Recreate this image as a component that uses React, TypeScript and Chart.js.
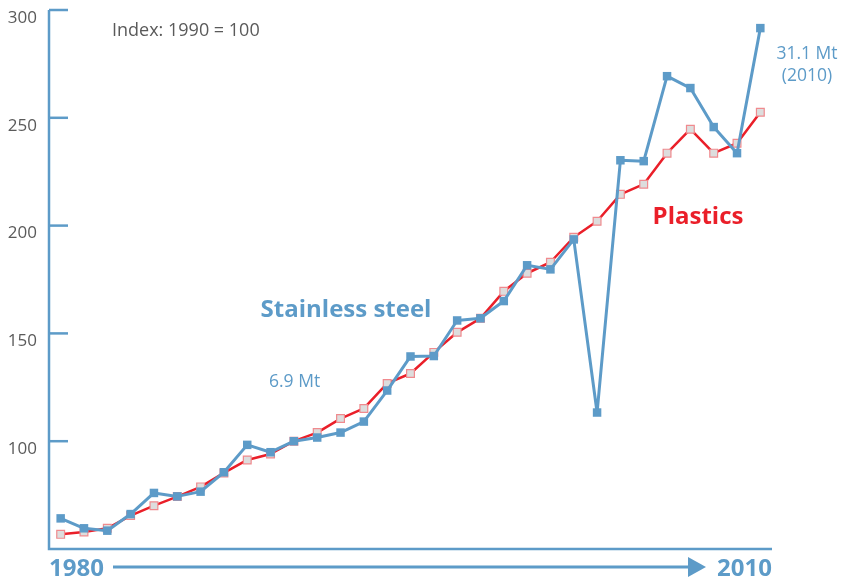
import React, { useEffect, useRef } from "react";
import { Chart, registerables } from "chart.js";

Chart.register(...registerables);

const years = [
  1980, 1981, 1982, 1983, 1984, 1985, 1986, 1987, 1988, 1989, 1990,
  1991, 1992, 1993, 1994, 1995, 1996, 1997, 1998, 1999, 2000,
  2001, 2002, 2003, 2004, 2005, 2006, 2007, 2008, 2009, 2010,
];

const stainlessSteel = [
  64.2, 59.6, 58.5, 66.2, 76.0, 74.4, 76.6, 85.6, 98.3, 94.9, 100,
  101.7, 104.0, 109.1, 123.5, 139.3, 139.5, 156.0, 157.0, 165.0, 181.6,
  179.7, 193.6, 113.3, 230.3, 229.9, 269.3, 263.8, 245.7, 233.6, 291.6,
];

const plastics = [
  56.8, 57.9, 59.6, 65.5, 70.1, 74.3, 78.8, 85.3, 91.3, 94.1, 100,
  104.0, 110.5, 115.2, 126.8, 131.4, 141.2, 150.5, 157.0, 169.5, 177.9,
  183.0, 194.6, 202.0, 214.5, 219.2, 233.6, 244.7, 233.6, 238.2, 252.6,
];

const yTicks = [100, 150, 200, 250, 300];

const BLUE = "#5d9bc8";
const RED = "#ea1f29";
const GREY = "#5a5a5a";
const FONT = '"Open Sans", "DejaVu Sans", sans-serif';

const overlay = {
  id: "overlay",
  beforeDatasetsDraw(chart: any) {
    const { ctx, chartArea, scales } = chart;
    const y = scales.y;
    ctx.save();
    ctx.strokeStyle = BLUE;
    ctx.lineWidth = 2.5;
    ctx.beginPath();
    ctx.moveTo(chartArea.left, chartArea.top);
    ctx.lineTo(chartArea.left, chartArea.bottom);
    ctx.lineTo(chartArea.right, chartArea.bottom);
    ctx.stroke();
    for (const v of yTicks) {
      const py = y.getPixelForValue(v);
      ctx.beginPath();
      ctx.moveTo(chartArea.left, py);
      ctx.lineTo(chartArea.left + 19, py);
      ctx.stroke();
    }
    ctx.restore();
  },
  afterDraw(chart: any) {
    const { ctx, chartArea } = chart;
    ctx.save();
    ctx.textBaseline = "alphabetic";

    ctx.fillStyle = GREY;
    ctx.font = `18px ${FONT}`;
    ctx.textAlign = "left";
    ctx.fillText("Index: 1990 = 100", 112, 36);

    ctx.fillStyle = BLUE;
    ctx.font = `bold 24px ${FONT}`;
    ctx.textAlign = "center";
    ctx.fillText("Stainless steel", 346, 317);

    ctx.font = `17.5px ${FONT}`;
    ctx.textAlign = "left";
    ctx.fillText("6.9 Mt", 269, 387);

    ctx.textAlign = "center";
    ctx.fillText("31.1 Mt", 807, 59);
    ctx.fillText("(2010)", 807, 81);

    ctx.fillStyle = RED;
    ctx.font = `bold 24px ${FONT}`;
    ctx.fillText("Plastics", 698, 224);

    // bottom time arrow
    ctx.fillStyle = BLUE;
    ctx.font = `bold 24px ${FONT}`;
    ctx.textAlign = "left";
    ctx.fillText(String(years[0]), chartArea.left, 576);
    ctx.textAlign = "right";
    ctx.fillText(String(years[years.length - 1]), chartArea.right, 576);

    ctx.strokeStyle = BLUE;
    ctx.lineWidth = 3;
    ctx.beginPath();
    ctx.moveTo(113, 567);
    ctx.lineTo(690, 567);
    ctx.stroke();
    ctx.beginPath();
    ctx.moveTo(688, 557);
    ctx.lineTo(706, 567);
    ctx.lineTo(688, 577);
    ctx.closePath();
    ctx.fill();
    ctx.restore();
  },
};

export default function App() {
  const ref = useRef<HTMLCanvasElement | null>(null);
  useEffect(() => {
    if (!ref.current) return;
    const chart = new Chart(ref.current, {
      type: "line",
      data: {
        labels: years.map(String),
        datasets: [
          {
            label: "Stainless steel",
            data: stainlessSteel,
            borderColor: BLUE,
            backgroundColor: BLUE,
            borderWidth: 3,
            borderJoinStyle: "round",
            pointStyle: "rect",
            pointRadius: 6,
            pointBorderWidth: 0,
            pointBackgroundColor: BLUE,
            tension: 0,
            order: 0,
          },
          {
            label: "Plastics",
            data: plastics,
            borderColor: RED,
            backgroundColor: "#dddddd",
            borderWidth: 2.5,
            borderJoinStyle: "round",
            pointStyle: "rect",
            pointRadius: 5.5,
            pointBorderWidth: 1.2,
            pointBorderColor: "#f08a8e",
            pointBackgroundColor: "#dddddd",
            tension: 0,
            order: 1,
          },
        ],
      },
      options: {
        animation: false,
        responsive: false,
        devicePixelRatio: 1,
        layout: { padding: { left: 0, top: 10, right: 71, bottom: 32 } },
        plugins: {
          legend: { display: false },
          tooltip: { enabled: false },
        },
        scales: {
          x: {
            type: "category",
            offset: true,
            display: false,
          },
          y: {
            min: 50,
            max: 300,
            afterFit: (s: any) => {
              s.width = 49;
              s.paddingTop = 0;
              s.paddingBottom = 0;
            },
            grid: { display: false, drawTicks: false },
            border: { display: false },
            afterBuildTicks: (s: any) => {
              s.ticks = yTicks.map((v) => ({ value: v }));
            },
            ticks: {
              padding: 12,
              labelOffset: 8,
              color: GREY,
              font: { family: FONT, size: 17 },
              callback: (v: any) => String(v),
            },
          },
        },
      },
      plugins: [overlay],
    });
    return () => chart.destroy();
  }, []);
  return (
    <div style={{ position: "absolute", left: 0, top: 0, width: 843, height: 581 }}>
      <canvas ref={ref} width={843} height={581} style={{ display: "block" }} />
    </div>
  );
}
